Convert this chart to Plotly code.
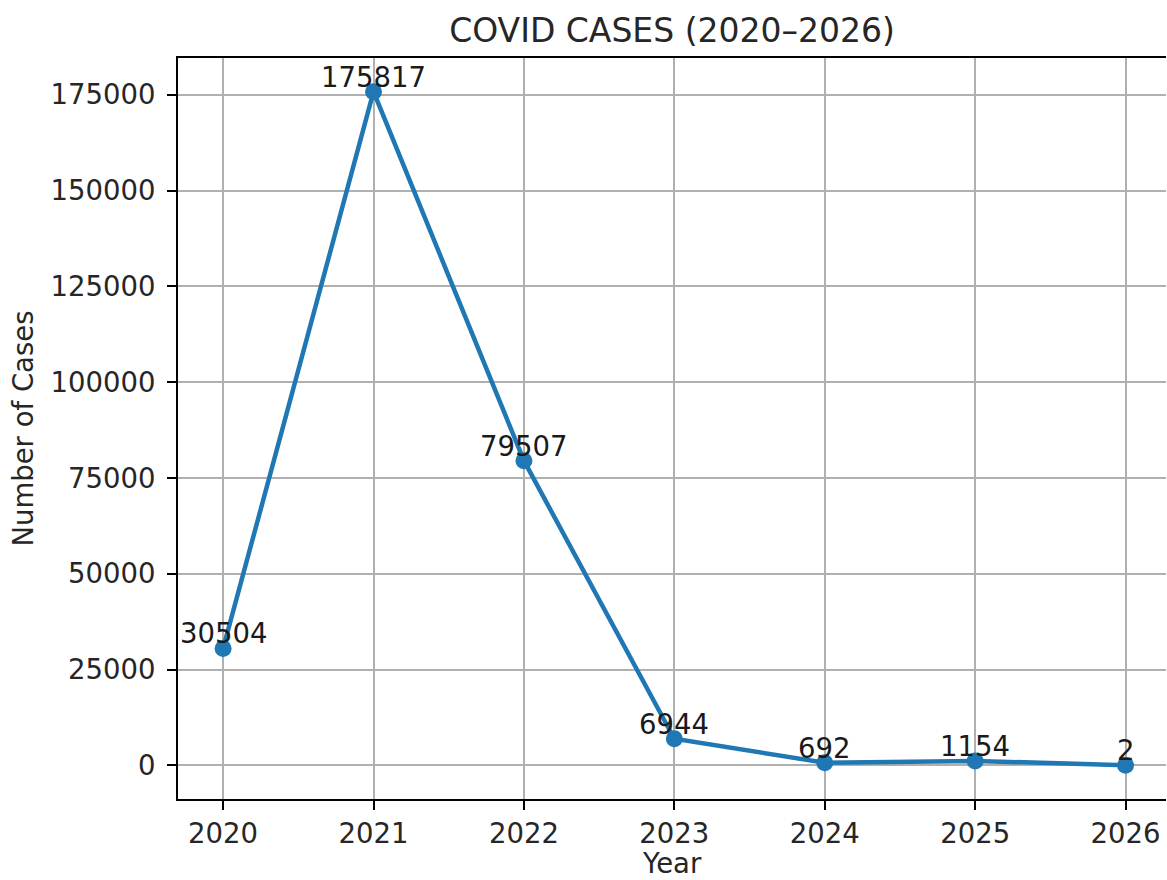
import plotly.graph_objects as go

# Yearly COVID case counts
years = [2020, 2021, 2022, 2023, 2024, 2025, 2026]
cases = [30504, 175817, 79507, 6944, 692, 1154, 2]

y_ticks = [0, 25000, 50000, 75000, 100000, 125000, 150000, 175000]

FONT = "DejaVu Sans"
TXT = "#262626"
BLUE = "#1f77b4"
FS = 27.5

fig = go.Figure()
fig.add_trace(go.Scatter(
    x=years, y=cases,
    mode="lines+markers",
    line=dict(color=BLUE, width=4.5),
    marker=dict(color=BLUE, size=17),
    showlegend=False,
    hoverinfo="skip",
))

# value labels sitting on top of each point
for x, y in zip(years, cases):
    fig.add_annotation(
        x=x, y=y, text=str(y),
        showarrow=False, xanchor="center", yanchor="bottom",
        yshift=-3,
        font=dict(family=FONT, size=FS, color="#1a1a1a"),
    )

# x-axis label placed under the tick labels
fig.add_annotation(
    x=0.5, y=-64 / 741, xref="paper", yref="paper",
    text="Year", showarrow=False, xanchor="center", yanchor="middle",
    borderpad=0,
    font=dict(family=FONT, size=FS, color=TXT),
)

fig.update_layout(
    width=1167, height=880,
    margin=dict(l=178, r=1, t=58, b=81),
    paper_bgcolor="white", plot_bgcolor="white",
    font=dict(family=FONT, size=FS, color=TXT),
    title=dict(
        text="COVID CASES (2020–2026)",
        x=0.5, xref="paper", xanchor="center",
        y=1 - 30 / 880, yref="container", yanchor="middle",
        font=dict(family=FONT, size=33, color=TXT),
    ),
    xaxis=dict(
        range=[2019.7, 2026.269],
        automargin=False,
        tickmode="array", tickvals=years, ticktext=[str(v) for v in years],
        showgrid=True, gridcolor="#b0b0b0", gridwidth=2,
        showline=True, linecolor="black", linewidth=2, mirror=True,
        ticks="outside", ticklen=9, tickwidth=2, tickcolor="black",
        zeroline=False,
        tickfont=dict(family=FONT, size=FS, color=TXT),
    ),
    yaxis=dict(
        range=[-8789, 184608],
        automargin=False,
        tickmode="array", tickvals=y_ticks, ticktext=[str(v) for v in y_ticks],
        showgrid=True, gridcolor="#b0b0b0", gridwidth=2,
        showline=True, linecolor="black", linewidth=2, mirror=False,
        ticks="outside", ticklen=9, tickwidth=2, tickcolor="black",
        ticklabelstandoff=6,
        zeroline=False,
        title=dict(text="Number of Cases", standoff=9, font=dict(family=FONT, size=FS, color=TXT)),
        tickfont=dict(family=FONT, size=FS, color=TXT),
    ),
)

fig.write_html("out.html")
